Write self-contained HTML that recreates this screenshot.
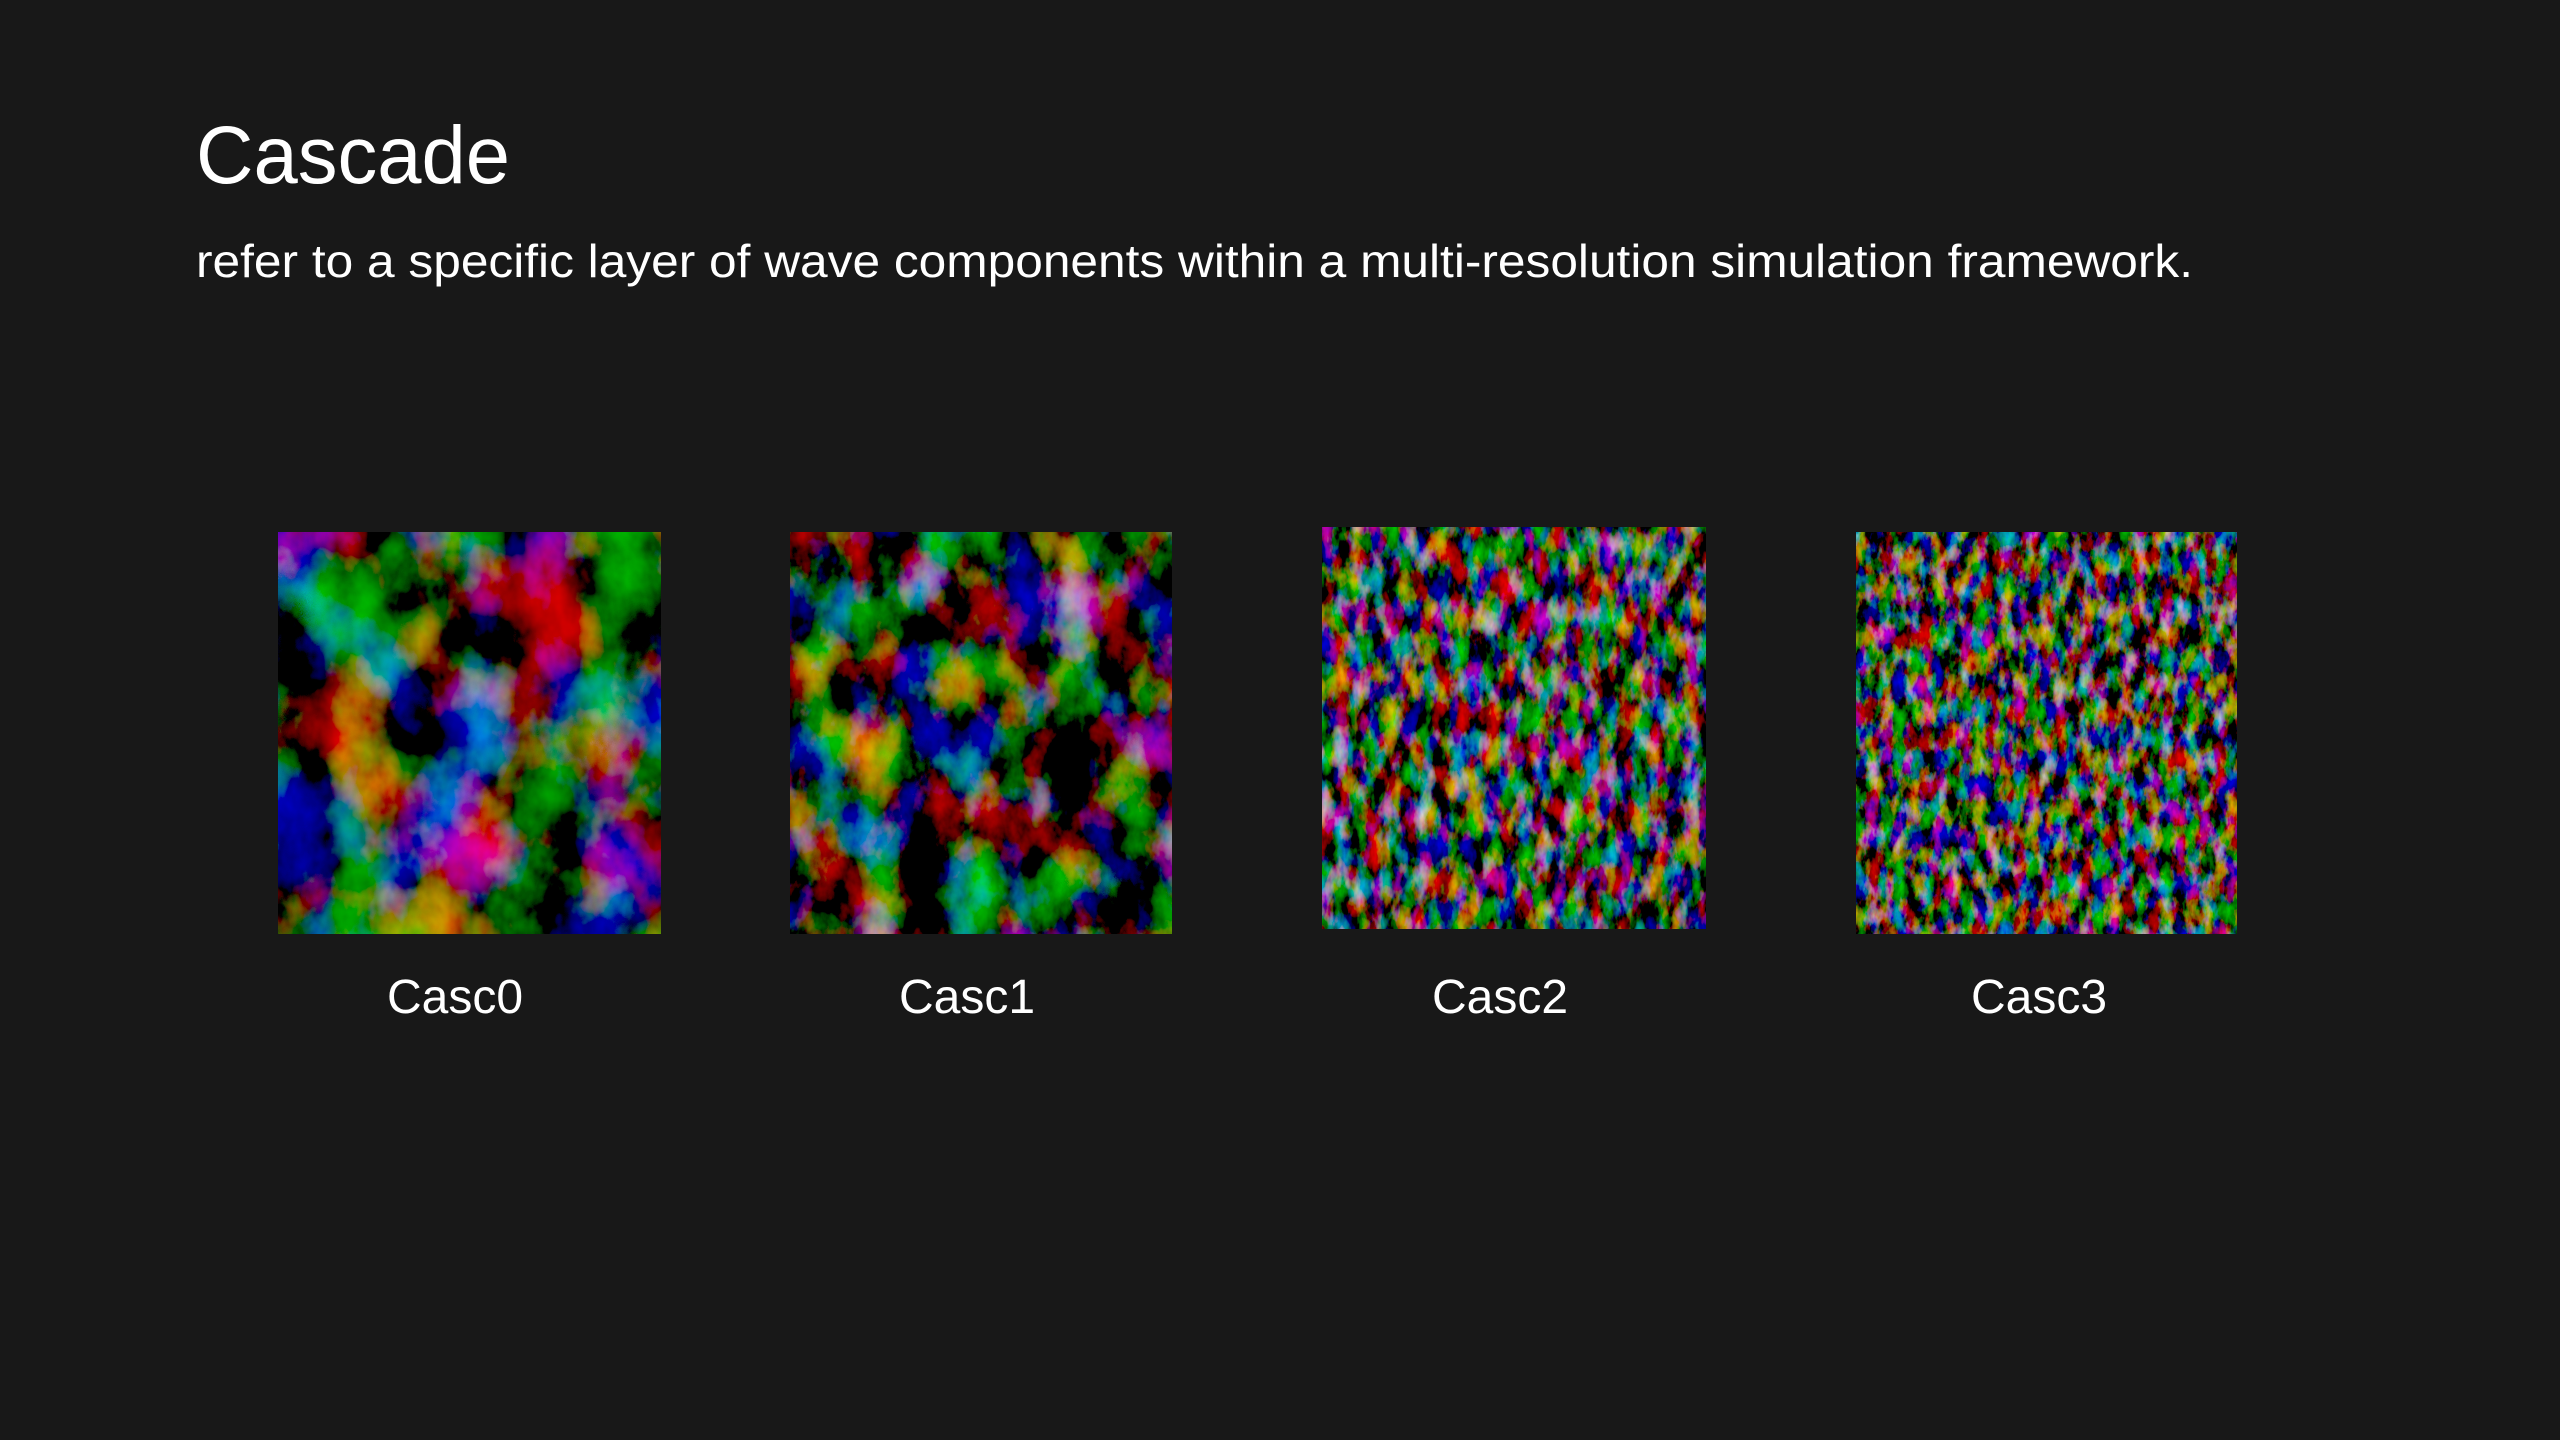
<!DOCTYPE html>
<html><head><meta charset="utf-8"><style>
html,body{margin:0;padding:0;background:#181818;}
svg{display:block;}
</style></head><body>
<svg width="2560" height="1440" viewBox="0 0 2560 1440" xmlns="http://www.w3.org/2000/svg">
<defs>
<filter id="f0" x="0" y="0" width="100%" height="100%">
<feTurbulence type="fractalNoise" baseFrequency="0.012 0.009" numOctaves="5" seed="3"/>
<feComponentTransfer><feFuncR type="linear" slope="2.0" intercept="-0.95"/><feFuncG type="linear" slope="1.4" intercept="-0.62"/><feFuncB type="linear" slope="1.9" intercept="-0.92"/><feFuncA type="linear" slope="0" intercept="1"/></feComponentTransfer>
</filter>
<filter id="f1" x="0" y="0" width="100%" height="100%">
<feTurbulence type="fractalNoise" baseFrequency="0.02 0.014" numOctaves="5" seed="7"/>
<feComponentTransfer><feFuncR type="linear" slope="1.9" intercept="-0.95"/><feFuncG type="linear" slope="1.3" intercept="-0.62"/><feFuncB type="linear" slope="1.8" intercept="-0.92"/><feFuncA type="linear" slope="0" intercept="1"/></feComponentTransfer>
</filter>
<filter id="f2" x="0" y="0" width="100%" height="100%">
<feTurbulence type="fractalNoise" baseFrequency="0.06 0.03" numOctaves="4" seed="11"/>
<feComponentTransfer><feFuncR type="linear" slope="2.0" intercept="-0.92"/><feFuncG type="linear" slope="1.4" intercept="-0.62"/><feFuncB type="linear" slope="1.9" intercept="-0.9"/><feFuncA type="linear" slope="0" intercept="1"/></feComponentTransfer>
</filter>
<filter id="f3" x="0" y="0" width="100%" height="100%">
<feTurbulence type="fractalNoise" baseFrequency="0.075 0.04" numOctaves="4" seed="19"/>
<feComponentTransfer><feFuncR type="linear" slope="2.0" intercept="-0.92"/><feFuncG type="linear" slope="1.4" intercept="-0.62"/><feFuncB type="linear" slope="1.9" intercept="-0.9"/><feFuncA type="linear" slope="0" intercept="1"/></feComponentTransfer>
</filter>
</defs>
<rect x="0" y="0" width="2560" height="1440" fill="#181818"/>
<text x="196" y="183" fill="#ffffff" font-family="Liberation Sans, sans-serif" font-size="82" textLength="314" lengthAdjust="spacingAndGlyphs">Cascade</text>
<text x="196" y="277" fill="#ffffff" font-family="Liberation Sans, sans-serif" font-size="46" textLength="1997" lengthAdjust="spacingAndGlyphs">refer to a specific layer of wave components within a multi-resolution simulation framework.</text>

<rect x="278" y="532" width="383" height="402" filter="url(#f0)"/>
<rect x="790" y="532" width="382" height="402" filter="url(#f1)"/>
<rect x="1322" y="527" width="384" height="402" filter="url(#f2)"/>
<rect x="1856" y="532" width="381" height="402" filter="url(#f3)"/>

<g fill="#ffffff" font-family="Liberation Sans, sans-serif" font-size="48" text-anchor="middle">
<text x="455" y="1013">Casc0</text>
<text x="967" y="1013">Casc1</text>
<text x="1500" y="1013">Casc2</text>
<text x="2039" y="1013">Casc3</text>
</g>
</svg>
</body></html>
